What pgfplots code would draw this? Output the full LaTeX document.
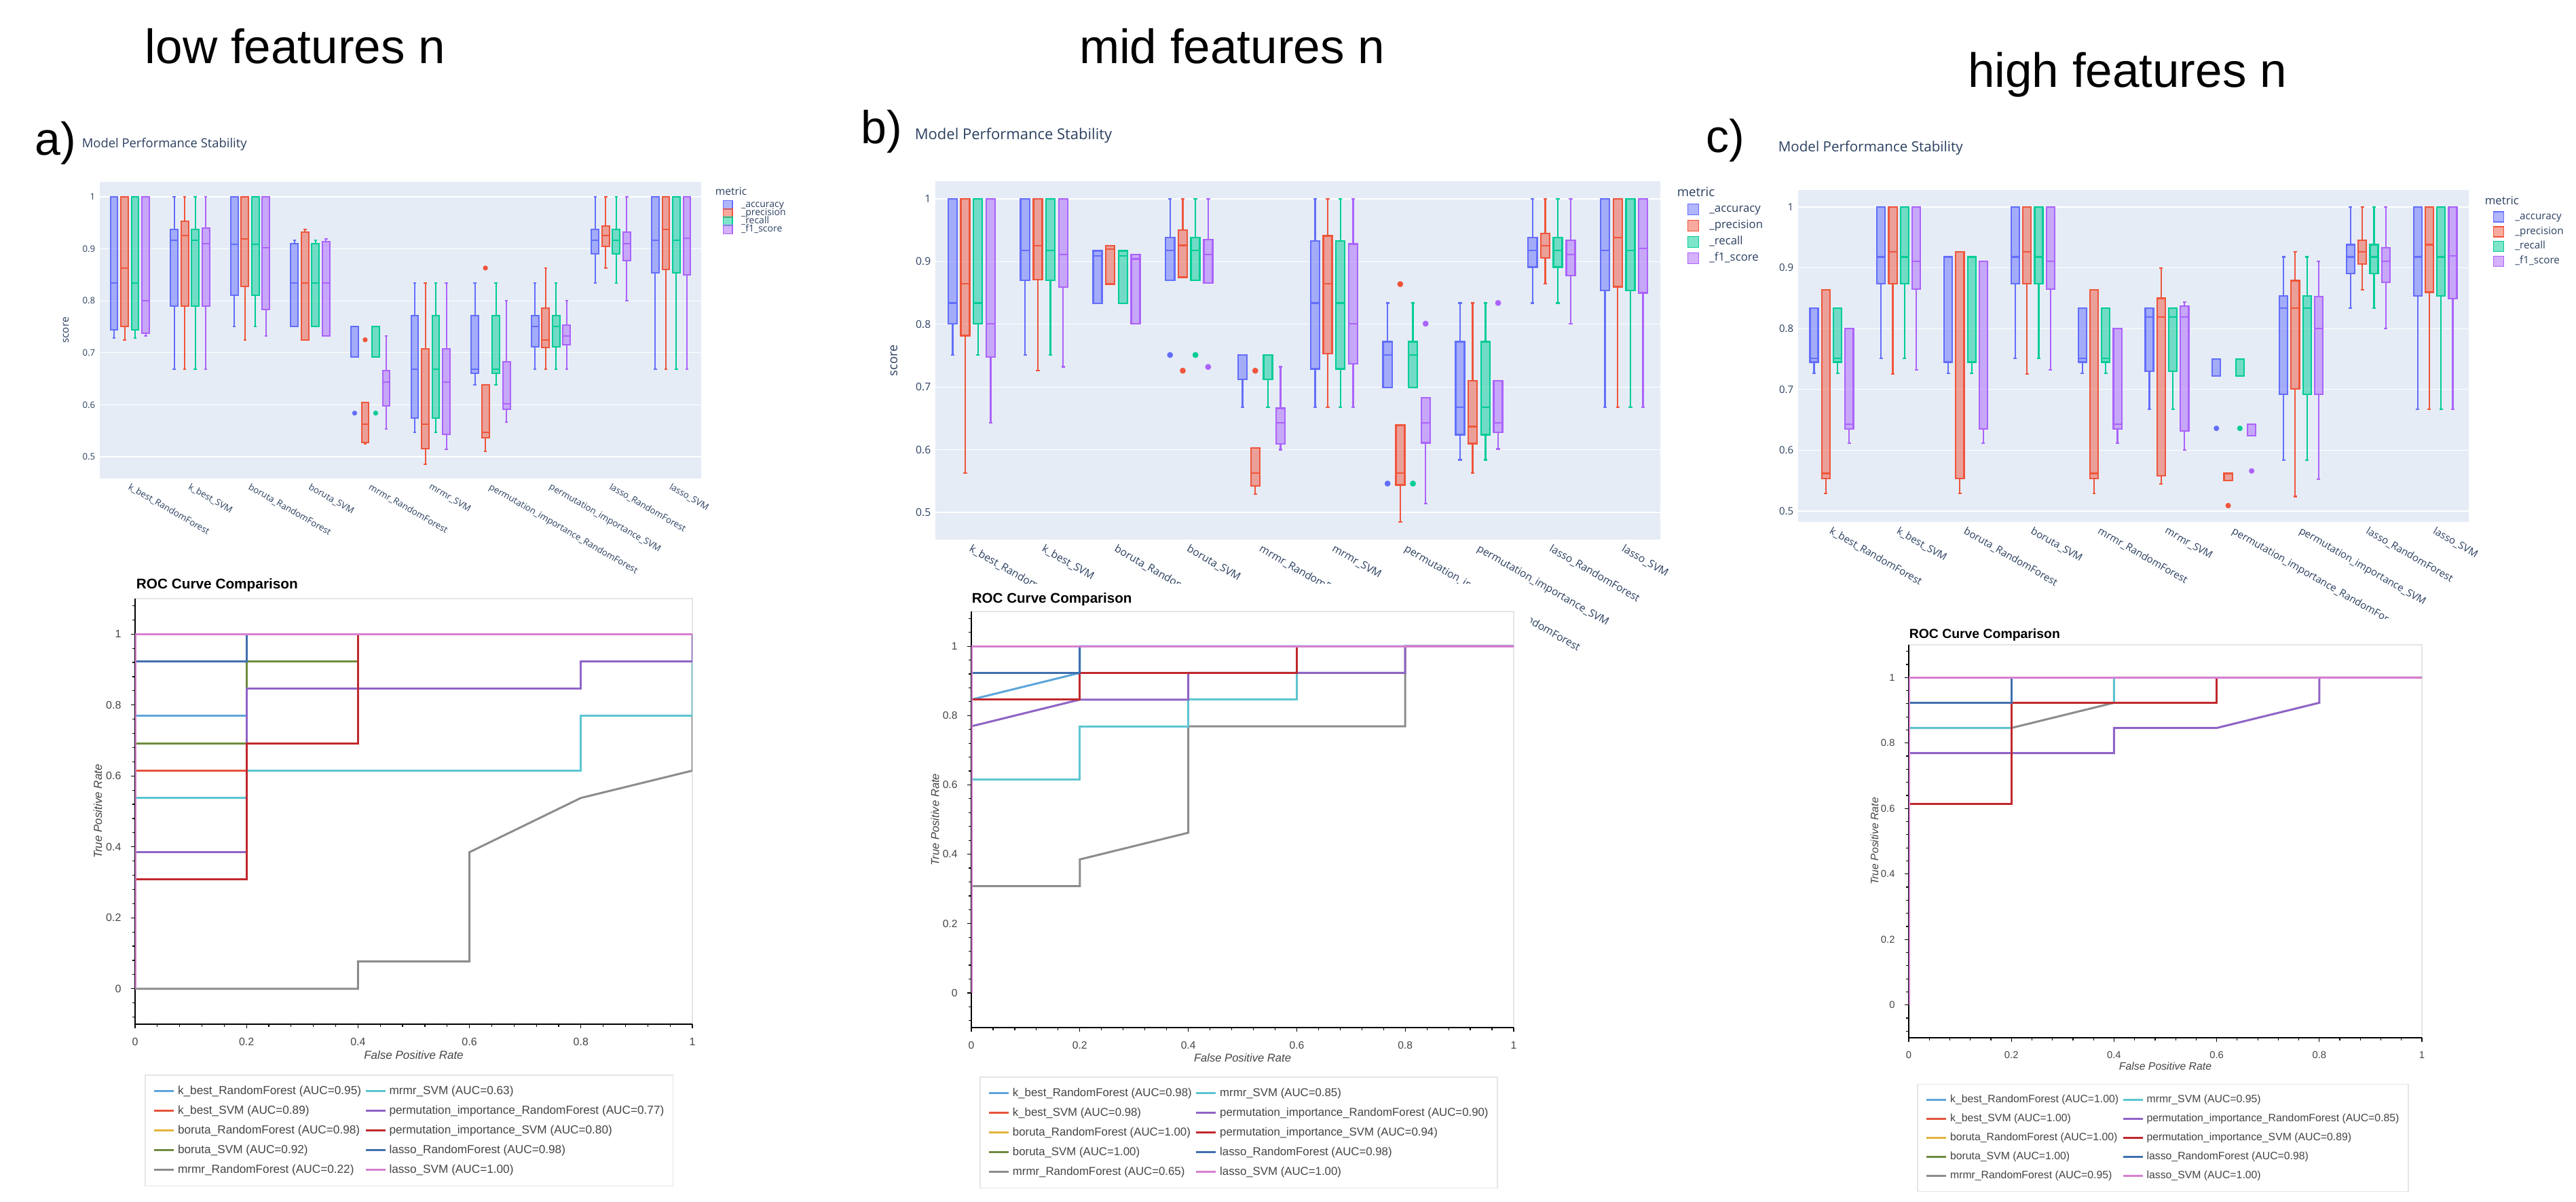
\documentclass[border=0pt]{standalone}
\usepackage{fontspec}
\setmainfont{Liberation Sans}
\newfontfamily\osans{Open Sans}
\usepackage{pgfplots}
\pgfplotsset{compat=1.18}
\usepgfplotslibrary{statistics}

\definecolor{cA}{HTML}{636EFA}
\definecolor{cP}{HTML}{EF553B}
\definecolor{cR}{HTML}{00CC96}
\definecolor{cF}{HTML}{AB63FA}
\definecolor{plotbg}{HTML}{E5ECF6}
\definecolor{plotfg}{HTML}{2A3F5F}
\definecolor{rocfg}{HTML}{444444}
\definecolor{rocframe}{HTML}{E5E5E5}
\definecolor{rc1}{HTML}{5DA5DA}
\definecolor{rc2}{HTML}{E4543C}
\definecolor{rc3}{HTML}{E2B33C}
\definecolor{rc4}{HTML}{6E8B3D}
\definecolor{rc5}{HTML}{8C8C8C}
\definecolor{rc6}{HTML}{5BC5D0}
\definecolor{rc7}{HTML}{8F63C6}
\definecolor{rc8}{HTML}{C0282E}
\definecolor{rc9}{HTML}{3F6FAE}
\definecolor{rc10}{HTML}{D680D0}

\def\px{0.25pt}
\newcommand{\fs}[1]{\fontsize{#1pt}{#1pt}\selectfont}

% one box: position, colour, lower whisker, q1, median, q3, upper whisker, outliers
\newcommand{\Bx}[8]{%
  \pgfmathsetmacro{\bxpos}{#1}%
  \edef\bxcmd{\noexpand\addplot[forget plot, draw=#2, fill=#2, fill opacity=0.5,
    mark=*, mark options={draw=#2, fill=#2, fill opacity=1},
    boxplot/draw direction=y,
    boxplot prepared={draw position=\bxpos, lower whisker=#3, lower quartile=#4,
      median=#5, upper quartile=#6, upper whisker=#7,
      box extend=0.1225, whisker extend=0.05}]
    coordinates {#8};}%
  \bxcmd}
\newcommand{\Ba}[7]{\Bx{#1-0.2625}{cA}{#2}{#3}{#4}{#5}{#6}{#7}}
\newcommand{\Bp}[7]{\Bx{#1-0.0875}{cP}{#2}{#3}{#4}{#5}{#6}{#7}}
\newcommand{\Br}[7]{\Bx{#1+0.0875}{cR}{#2}{#3}{#4}{#5}{#6}{#7}}
\newcommand{\Bf}[7]{\Bx{#1+0.2625}{cF}{#2}{#3}{#4}{#5}{#6}{#7}}

\newcommand{\rle}[2]{\addlegendimage{#1, line width=0.75pt}\addlegendentry{#2}}
\newcommand{\mle}[1]{\addlegendimage{draw=#1, fill=#1, fill opacity=0.5, line width=0.4pt}}

\pgfplotsset{
  bxbase/.style={
    scale only axis, xmin=-0.5, xmax=9.5, enlargelimits=false,
    axis background/.style={fill=plotbg},
    axis line style={draw=none}, major tick length=0pt, tick style={draw=none},
    ymajorgrids,
    ytick={0.5,0.6,0.7,0.8,0.9,1},
    xtick={0,...,9},
    xticklabels={k\_best\_RandomForest, k\_best\_SVM, boruta\_RandomForest, boruta\_SVM,
      mrmr\_RandomForest, mrmr\_SVM, permutation\_importance\_RandomForest,
      permutation\_importance\_SVM, lasso\_RandomForest, lasso\_SVM},
    xticklabel style={rotate=-30, anchor=north west, inner sep=1pt},
    yticklabel style={inner xsep=1.5pt},
    tick label style={text=plotfg},
    /pgf/number format/assume math mode=true,
    ylabel={score},
    legend cell align=left,
    legend style={anchor=north west, draw=none, fill=none, inner sep=0pt},
  },
  rocbase/.style={
    scale only axis, xmin=0, xmax=1, ymin=-0.1, ymax=1.1,
    axis x line*=bottom, axis y line*=left,
    axis background/.style={draw=rocframe, line width=0.3pt},
    x axis line style={line width=0.6pt},
    y axis line style={line width=0.35pt},
    tick align=outside,
    xtick={0,0.2,0.4,0.6,0.8,1}, ytick={0,0.2,0.4,0.6,0.8,1},
    minor xtick={0,0.04,...,1.0}, minor ytick={-0.08,-0.04,...,1.09},
    major tick length=1.6pt, minor tick length=1pt,
    tick style={black, line width=0.3pt},
    tick label style={text=rocfg},
    /pgf/number format/assume math mode=true,
    xlabel={False Positive Rate}, ylabel={True Positive Rate},
    label style={text=rocfg},
    ylabel style={at={(axis description cs:-0.067,0.5)}, anchor=center},
    xlabel style={at={(axis description cs:0.5,-0.073)}, anchor=center},
    legend columns=2, legend cell align=left,
    legend image code/.code={\draw[##1] (0pt,0pt) -- (7.2pt,0pt);},
    legend style={anchor=north west, draw=rocframe, fill=white, line width=0.4pt,
      inner xsep=3pt, inner ysep=3.6pt, row sep=2.5pt,
      /tikz/every odd column/.append style={column sep=0.8pt},
      /tikz/every even column/.append style={column sep=1pt},
      nodes={inner sep=0.3pt, text height=3.2pt, text depth=0.95pt, text=rocfg}},
    every axis plot/.append style={line width=0.75pt, mark=none},
  },
}

\begin{document}
\begin{tikzpicture}
\useasboundingbox (0,0) rectangle (948.75pt,-442.5pt);

% ================= a) low features: box plots
\begin{axis}[bxbase, at={(36.75pt,-176.25pt)}, anchor=south west,
  width=221.5pt, height=109.25pt, ymin=0.4582, ymax=1.0287,
  tick label style={font=\osans\fs{3.3}},
  ylabel style={font=\osans\fs{3.8}, text=plotfg, at={(axis description cs:-0.0564,0.5)}, anchor=center},
  grid style={white, line width=0.27pt},
  every axis plot/.append style={line width=0.5pt, mark size=0.65pt},
  legend style={at={(axis description cs:1.035,0.9405)}, font=\osans\fs{3.5}, row sep=-0.6pt,
    /tikz/every odd column/.append style={column sep=3pt},
    nodes={inner sep=0pt, text height=2.6pt, text depth=0.8pt, text=plotfg}},
  legend image code/.code={\draw[#1] (0pt,-1.6pt) rectangle (3.4pt,1.6pt);},
]
\Ba{0}{0.728}{0.744}{0.834}{1}{1}{}
\Bp{0}{0.725}{0.751}{0.863}{1}{1}{}
\Br{0}{0.728}{0.744}{0.834}{1}{1}{}
\Bf{0}{0.732}{0.737}{0.800}{1}{1}{}
\Ba{1}{0.668}{0.790}{0.916}{0.937}{1}{}
\Bp{1}{0.668}{0.790}{0.925}{0.953}{1}{}
\Br{1}{0.668}{0.790}{0.916}{0.937}{1}{}
\Bf{1}{0.668}{0.790}{0.910}{0.940}{1}{}
\Ba{2}{0.750}{0.811}{0.909}{1}{1}{}
\Bp{2}{0.725}{0.828}{0.919}{1}{1}{}
\Br{2}{0.750}{0.811}{0.909}{1}{1}{}
\Bf{2}{0.732}{0.783}{0.902}{1}{1}{}
\Ba{3}{0.750}{0.750}{0.834}{0.910}{0.917}{}
\Bp{3}{0.725}{0.725}{0.834}{0.932}{0.937}{}
\Br{3}{0.750}{0.750}{0.834}{0.910}{0.917}{}
\Bf{3}{0.732}{0.732}{0.834}{0.914}{0.919}{}
\Ba{4}{0.692}{0.692}{0.750}{0.750}{0.750}{(0,0.584)}
\Bp{4}{0.525}{0.527}{0.563}{0.604}{0.604}{(0,0.725)}
\Br{4}{0.692}{0.692}{0.750}{0.750}{0.750}{(0,0.584)}
\Bf{4}{0.554}{0.598}{0.644}{0.666}{0.732}{}
\Ba{5}{0.547}{0.574}{0.668}{0.771}{0.834}{}
\Bp{5}{0.486}{0.516}{0.563}{0.708}{0.834}{}
\Br{5}{0.547}{0.574}{0.668}{0.771}{0.834}{}
\Bf{5}{0.515}{0.543}{0.644}{0.708}{0.834}{}
\Ba{6}{0.638}{0.660}{0.668}{0.771}{0.834}{}
\Bp{6}{0.510}{0.537}{0.547}{0.639}{0.639}{(0,0.863)}
\Br{6}{0.638}{0.660}{0.668}{0.771}{0.834}{}
\Bf{6}{0.567}{0.591}{0.602}{0.683}{0.800}{}
\Ba{7}{0.668}{0.711}{0.751}{0.771}{0.834}{}
\Bp{7}{0.668}{0.710}{0.725}{0.786}{0.863}{}
\Br{7}{0.668}{0.711}{0.751}{0.771}{0.834}{}
\Bf{7}{0.668}{0.716}{0.732}{0.753}{0.800}{}
\Ba{8}{0.834}{0.890}{0.916}{0.937}{1}{}
\Bp{8}{0.863}{0.905}{0.925}{0.944}{1}{}
\Br{8}{0.834}{0.890}{0.916}{0.937}{1}{}
\Bf{8}{0.800}{0.877}{0.910}{0.932}{1}{}
\Ba{9}{0.668}{0.854}{0.916}{1}{1}{}
\Bp{9}{0.668}{0.860}{0.937}{1}{1}{}
\Br{9}{0.668}{0.854}{0.916}{1}{1}{}
\Bf{9}{0.668}{0.850}{0.920}{1}{1}{}
\mle{cA}\addlegendentry{\_accuracy}
\mle{cP}\addlegendentry{\_precision}
\mle{cR}\addlegendentry{\_recall}
\mle{cF}\addlegendentry{\_f1\_score}
\end{axis}

% ================= b) mid features: box plots
\begin{axis}[bxbase, at={(344.5pt,-198.75pt)}, anchor=south west,
  width=267pt, height=132pt, ymin=0.4567, ymax=1.0281,
  tick label style={font=\osans\fs{3.9}},
  ylabel style={font=\osans\fs{4.6}, text=plotfg, at={(axis description cs:-0.0571,0.5)}, anchor=center},
  grid style={white, line width=0.32pt},
  every axis plot/.append style={line width=0.6pt, mark size=0.78pt},
  legend style={at={(axis description cs:1.0365,0.9394)}, font=\osans\fs{4.2}, row sep=1.6pt,
    /tikz/every odd column/.append style={column sep=3.75pt},
    nodes={inner sep=0pt, text height=3.1pt, text depth=1pt, text=plotfg}},
  legend image code/.code={\draw[#1] (0pt,-2pt) rectangle (4pt,2pt);},
]
\Ba{0}{0.751}{0.801}{0.834}{1}{1}{}
\Bp{0}{0.563}{0.782}{0.865}{1}{1}{}
\Br{0}{0.751}{0.801}{0.834}{1}{1}{}
\Bf{0}{0.643}{0.748}{0.801}{1}{1}{}
\Ba{1}{0.751}{0.870}{0.918}{1}{1}{}
\Bp{1}{0.726}{0.871}{0.925}{1}{1}{}
\Br{1}{0.751}{0.870}{0.918}{1}{1}{}
\Bf{1}{0.732}{0.859}{0.911}{1}{1}{}
\Ba{2}{0.833}{0.833}{0.909}{0.917}{0.917}{}
\Bp{2}{0.864}{0.864}{0.920}{0.925}{0.925}{}
\Br{2}{0.833}{0.833}{0.909}{0.917}{0.917}{}
\Bf{2}{0.801}{0.801}{0.904}{0.911}{0.911}{}
\Ba{3}{0.870}{0.870}{0.918}{0.938}{1}{(0,0.751)}
\Bp{3}{0.875}{0.875}{0.926}{0.950}{1}{(0,0.726)}
\Br{3}{0.870}{0.870}{0.918}{0.938}{1}{(0,0.751)}
\Bf{3}{0.866}{0.866}{0.911}{0.935}{1}{(0,0.732)}
\Ba{4}{0.668}{0.712}{0.751}{0.751}{0.751}{}
\Bp{4}{0.529}{0.542}{0.563}{0.603}{0.603}{(0,0.726)}
\Br{4}{0.668}{0.712}{0.751}{0.751}{0.751}{}
\Bf{4}{0.600}{0.609}{0.643}{0.666}{0.732}{}
\Ba{5}{0.668}{0.729}{0.834}{0.933}{1}{}
\Bp{5}{0.668}{0.753}{0.865}{0.941}{1}{}
\Br{5}{0.668}{0.729}{0.834}{0.933}{1}{}
\Bf{5}{0.668}{0.737}{0.801}{0.928}{1}{}
\Ba{6}{0.699}{0.699}{0.751}{0.772}{0.834}{(0,0.546)}
\Bp{6}{0.485}{0.544}{0.563}{0.639}{0.639}{(0,0.864)}
\Br{6}{0.699}{0.699}{0.751}{0.772}{0.834}{(0,0.546)}
\Bf{6}{0.514}{0.611}{0.643}{0.683}{0.683}{(0,0.801)}
\Ba{7}{0.584}{0.624}{0.668}{0.772}{0.834}{}
\Bp{7}{0.563}{0.610}{0.637}{0.710}{0.834}{}
\Br{7}{0.584}{0.624}{0.668}{0.772}{0.834}{}
\Bf{7}{0.601}{0.628}{0.643}{0.710}{0.710}{(0,0.834)}
\Ba{8}{0.834}{0.891}{0.918}{0.938}{1}{}
\Bp{8}{0.865}{0.906}{0.925}{0.945}{1}{}
\Br{8}{0.834}{0.891}{0.918}{0.938}{1}{}
\Bf{8}{0.801}{0.878}{0.911}{0.934}{1}{}
\Ba{9}{0.668}{0.854}{0.918}{1}{1}{}
\Bp{9}{0.668}{0.860}{0.938}{1}{1}{}
\Br{9}{0.668}{0.854}{0.918}{1}{1}{}
\Bf{9}{0.668}{0.850}{0.921}{1}{1}{}
\mle{cA}\addlegendentry{\_accuracy}
\mle{cP}\addlegendentry{\_precision}
\mle{cR}\addlegendentry{\_recall}
\mle{cF}\addlegendentry{\_f1\_score}
\end{axis}

% ================= c) high features: box plots
\begin{axis}[bxbase, at={(662.25pt,-192.25pt)}, anchor=south west,
  width=247pt, height=122.25pt, ymin=0.4821, ymax=1.0279,
  tick label style={font=\osans\fs{3.75}},
  ylabel={},
  grid style={white, line width=0.3pt},
  every axis plot/.append style={line width=0.55pt, mark size=0.72pt},
  legend style={at={(axis description cs:1.0354,0.9376)}, font=\osans\fs{3.8}, row sep=1.3pt,
    /tikz/every odd column/.append style={column sep=4pt},
    nodes={inner sep=0pt, text height=2.8pt, text depth=0.9pt, text=plotfg}},
  legend image code/.code={\draw[#1] (0pt,-1.87pt) rectangle (3.75pt,1.87pt);},
]
\Ba{0}{0.727}{0.745}{0.751}{0.834}{0.834}{}
\Bp{0}{0.529}{0.554}{0.562}{0.864}{0.864}{}
\Br{0}{0.727}{0.745}{0.751}{0.834}{0.834}{}
\Bf{0}{0.612}{0.635}{0.643}{0.800}{0.800}{}
\Ba{1}{0.751}{0.874}{0.918}{1}{1}{}
\Bp{1}{0.725}{0.874}{0.926}{1}{1}{}
\Br{1}{0.751}{0.874}{0.918}{1}{1}{}
\Bf{1}{0.732}{0.865}{0.911}{1}{1}{}
\Ba{2}{0.727}{0.745}{0.918}{0.918}{0.918}{}
\Bp{2}{0.529}{0.554}{0.926}{0.926}{0.926}{}
\Br{2}{0.727}{0.745}{0.918}{0.918}{0.918}{}
\Bf{2}{0.612}{0.635}{0.911}{0.911}{0.911}{}
\Ba{3}{0.751}{0.874}{0.918}{1}{1}{}
\Bp{3}{0.725}{0.874}{0.926}{1}{1}{}
\Br{3}{0.751}{0.874}{0.918}{1}{1}{}
\Bf{3}{0.732}{0.865}{0.911}{1}{1}{}
\Ba{4}{0.727}{0.745}{0.751}{0.834}{0.834}{}
\Bp{4}{0.529}{0.554}{0.562}{0.864}{0.864}{}
\Br{4}{0.727}{0.745}{0.751}{0.834}{0.834}{}
\Bf{4}{0.612}{0.635}{0.643}{0.800}{0.800}{}
\Ba{5}{0.667}{0.730}{0.819}{0.834}{0.834}{}
\Bp{5}{0.545}{0.558}{0.819}{0.850}{0.900}{}
\Br{5}{0.667}{0.730}{0.819}{0.834}{0.834}{}
\Bf{5}{0.600}{0.632}{0.819}{0.837}{0.844}{}
\Ba{6}{0.722}{0.722}{0.750}{0.750}{0.750}{(0,0.636)}
\Bp{6}{0.550}{0.550}{0.562}{0.562}{0.562}{(0,0.509)}
\Br{6}{0.722}{0.722}{0.750}{0.750}{0.750}{(0,0.636)}
\Bf{6}{0.624}{0.624}{0.643}{0.643}{0.643}{(0,0.566)}
\Ba{7}{0.584}{0.692}{0.834}{0.854}{0.918}{}
\Bp{7}{0.524}{0.701}{0.834}{0.879}{0.926}{}
\Br{7}{0.584}{0.692}{0.834}{0.854}{0.918}{}
\Bf{7}{0.552}{0.692}{0.800}{0.853}{0.911}{}
\Ba{8}{0.834}{0.891}{0.918}{0.938}{1}{}
\Bp{8}{0.864}{0.906}{0.926}{0.945}{1}{}
\Br{8}{0.834}{0.891}{0.918}{0.938}{1}{}
\Bf{8}{0.800}{0.876}{0.911}{0.933}{1}{}
\Ba{9}{0.667}{0.854}{0.918}{1}{1}{}
\Bp{9}{0.667}{0.860}{0.938}{1}{1}{}
\Br{9}{0.667}{0.854}{0.918}{1}{1}{}
\Bf{9}{0.667}{0.849}{0.920}{1}{1}{}
\mle{cA}\addlegendentry{\_accuracy}
\mle{cP}\addlegendentry{\_precision}
\mle{cR}\addlegendentry{\_recall}
\mle{cF}\addlegendentry{\_f1\_score}
\end{axis}

% the ROC pictures lie over the lower part of the tick labels
\fill[white] ({1345*\px},{-860*\px}) rectangle ({2255*\px},{-1770*\px});
\fill[white] ({2730*\px},{-912*\px}) rectangle ({3610*\px},{-1770*\px});

% ================= a) ROC
\begin{axis}[rocbase, at={(49.75pt,-377.25pt)}, anchor=south west,
  width=205.25pt, height=156.75pt,
  tick label style={font=\fs{4.0}},
  label style={font=\itshape\fs{4.25}},
  legend style={at={(axis description cs:0.0171,-0.118)}, font=\fs{4.3}},
]
\addplot[forget plot, rc1] coordinates {(0,0)(0,0.769)(0.2,0.769)(0.2,1)(1,1)};
\addplot[forget plot, rc2] coordinates {(0,0)(0,0.615)(0.2,0.615)(0.2,0.846)(0.4,0.846)(0.4,1)(1,1)};
\addplot[forget plot, rc3] coordinates {(0,0)(0,0.923)(0.2,0.923)(0.2,1)(1,1)};
\addplot[forget plot, rc4] coordinates {(0,0)(0,0.692)(0.2,0.692)(0.2,0.923)(0.4,0.923)(0.4,1)(1,1)};
\addplot[forget plot, rc5] coordinates {(0,0)(0.4,0)(0.4,0.077)(0.6,0.077)(0.6,0.385)(0.8,0.538)(1,0.615)(1,1)};
\addplot[forget plot, rc6] coordinates {(0,0)(0,0.538)(0.2,0.538)(0.2,0.615)(0.8,0.615)(0.8,0.769)(1,0.769)(1,1)};
\addplot[forget plot, rc7] coordinates {(0,0)(0,0.385)(0.2,0.385)(0.2,0.846)(0.8,0.846)(0.8,0.923)(1,0.923)(1,1)};
\addplot[forget plot, rc8] coordinates {(0,0)(0,0.308)(0.2,0.308)(0.2,0.692)(0.4,0.692)(0.4,1)(1,1)};
\addplot[forget plot, rc9] coordinates {(0,0)(0,0.923)(0.2,0.923)(0.2,1)(1,1)};
\addplot[forget plot, rc10] coordinates {(0,0)(0,1)(1,1)};
\rle{rc1}{k\_best\_RandomForest (AUC=0.95)}
\rle{rc6}{mrmr\_SVM (AUC=0.63)}
\rle{rc2}{k\_best\_SVM (AUC=0.89)}
\rle{rc7}{permutation\_importance\_RandomForest (AUC=0.77)}
\rle{rc3}{boruta\_RandomForest (AUC=0.98)}
\rle{rc8}{permutation\_importance\_SVM (AUC=0.80)}
\rle{rc4}{boruta\_SVM (AUC=0.92)}
\rle{rc9}{lasso\_RandomForest (AUC=0.98)}
\rle{rc5}{mrmr\_RandomForest (AUC=0.22)}
\rle{rc10}{lasso\_SVM (AUC=1.00)}
\end{axis}

% ================= b) ROC
\begin{axis}[rocbase, at={(357.75pt,-378.5pt)}, anchor=south west,
  width=199.75pt, height=153.25pt,
  tick label style={font=\fs{3.9}},
  label style={font=\itshape\fs{4.15}},
  legend style={at={(axis description cs:0.015,-0.1175)}, font=\fs{4.2}},
]
\addplot[forget plot, rc1] coordinates {(0,0)(0,0.846)(0.2,0.923)(0.2,1)(1,1)};
\addplot[forget plot, rc2] coordinates {(0,0)(0,0.923)(0.2,0.923)(0.2,1)(1,1)};
\addplot[forget plot, rc3] coordinates {(0,0)(0,1)(1,1)};
\addplot[forget plot, rc4] coordinates {(0,0)(0,1)(1,1)};
\addplot[forget plot, rc5] coordinates {(0,0)(0,0.308)(0.2,0.308)(0.2,0.385)(0.4,0.462)(0.4,0.769)(0.8,0.769)(0.8,1)(1,1)};
\addplot[forget plot, rc6] coordinates {(0,0)(0,0.615)(0.2,0.615)(0.2,0.769)(0.4,0.769)(0.4,0.846)(0.6,0.846)(0.6,1)(1,1)};
\addplot[forget plot, rc7] coordinates {(0,0)(0,0.769)(0.2,0.846)(0.4,0.846)(0.4,0.923)(0.8,0.923)(0.8,1)(1,1)};
\addplot[forget plot, rc8] coordinates {(0,0)(0,0.846)(0.2,0.846)(0.2,0.923)(0.6,0.923)(0.6,1)(1,1)};
\addplot[forget plot, rc9] coordinates {(0,0)(0,0.923)(0.2,0.923)(0.2,1)(1,1)};
\addplot[forget plot, rc10] coordinates {(0,0)(0,1)(1,1)};
\rle{rc1}{k\_best\_RandomForest (AUC=0.98)}
\rle{rc6}{mrmr\_SVM (AUC=0.85)}
\rle{rc2}{k\_best\_SVM (AUC=0.98)}
\rle{rc7}{permutation\_importance\_RandomForest (AUC=0.90)}
\rle{rc3}{boruta\_RandomForest (AUC=1.00)}
\rle{rc8}{permutation\_importance\_SVM (AUC=0.94)}
\rle{rc4}{boruta\_SVM (AUC=1.00)}
\rle{rc9}{lasso\_RandomForest (AUC=0.98)}
\rle{rc5}{mrmr\_RandomForest (AUC=0.65)}
\rle{rc10}{lasso\_SVM (AUC=1.00)}
\end{axis}

% ================= c) ROC
\begin{axis}[rocbase, at={(703pt,-382.25pt)}, anchor=south west,
  width=189pt, height=144.75pt,
  tick label style={font=\fs{3.7}},
  label style={font=\itshape\fs{3.95}},
  legend style={at={(axis description cs:0.016,-0.117)}, font=\fs{3.95},
    nodes={text height=2.95pt, text depth=0.9pt}},
]
\addplot[forget plot, rc1] coordinates {(0,0)(0,1)(1,1)};
\addplot[forget plot, rc2] coordinates {(0,0)(0,1)(1,1)};
\addplot[forget plot, rc3] coordinates {(0,0)(0,1)(1,1)};
\addplot[forget plot, rc4] coordinates {(0,0)(0,1)(1,1)};
\addplot[forget plot, rc5] coordinates {(0,0)(0,0.846)(0.2,0.846)(0.4,0.923)(0.4,1)(1,1)};
\addplot[forget plot, rc6] coordinates {(0,0)(0,0.846)(0.2,0.846)(0.2,0.923)(0.4,0.923)(0.4,1)(1,1)};
\addplot[forget plot, rc7] coordinates {(0,0)(0,0.769)(0.4,0.769)(0.4,0.846)(0.6,0.846)(0.8,0.923)(0.8,1)(1,1)};
\addplot[forget plot, rc8] coordinates {(0,0)(0,0.615)(0.2,0.615)(0.2,0.923)(0.6,0.923)(0.6,1)(1,1)};
\addplot[forget plot, rc9] coordinates {(0,0)(0,0.923)(0.2,0.923)(0.2,1)(1,1)};
\addplot[forget plot, rc10] coordinates {(0,0)(0,1)(1,1)};
\rle{rc1}{k\_best\_RandomForest (AUC=1.00)}
\rle{rc6}{mrmr\_SVM (AUC=0.95)}
\rle{rc2}{k\_best\_SVM (AUC=1.00)}
\rle{rc7}{permutation\_importance\_RandomForest (AUC=0.85)}
\rle{rc3}{boruta\_RandomForest (AUC=1.00)}
\rle{rc8}{permutation\_importance\_SVM (AUC=0.89)}
\rle{rc4}{boruta\_SVM (AUC=1.00)}
\rle{rc9}{lasso\_RandomForest (AUC=0.98)}
\rle{rc5}{mrmr\_RandomForest (AUC=0.95)}
\rle{rc10}{lasso\_SVM (AUC=1.00)}
\end{axis}

% ================= texts around the panels
\node[anchor=base, font=\fs{17.75}] at ({435*\px},{-93*\px}) {low features n};
\node[anchor=base, font=\fs{17.75}] at ({1815*\px},{-93*\px}) {mid features n};
\node[anchor=base, font=\fs{17.75}] at ({3134*\px},{-128*\px}) {high features n};

\node[anchor=base west, inner sep=0pt, font=\fs{17}] at ({51*\px},{-228*\px}) {a)};
\node[anchor=base west, inner sep=0pt, font=\fs{17}] at ({1268*\px},{-211*\px}) {b)};
\node[anchor=base west, inner sep=0pt, font=\fs{17}] at ({2513*\px},{-224*\px}) {c)};

\node[anchor=base west, inner sep=0pt, text=plotfg, font=\osans\fs{4.6}] at ({120*\px},{-217*\px}) {Model Performance Stability};
\node[anchor=base west, inner sep=0pt, text=plotfg, font=\osans\fs{5.5}] at ({1347*\px},{-205*\px}) {Model Performance Stability};
\node[anchor=base west, inner sep=0pt, text=plotfg, font=\osans\fs{5.15}] at ({2619*\px},{-223*\px}) {Model Performance Stability};

\node[anchor=west, inner sep=0pt, text=plotfg, font=\osans\fs{3.9}] at ({1053*\px},{-282*\px}) {metric};
\node[anchor=west, inner sep=0pt, text=plotfg, font=\osans\fs{4.65}] at ({2470*\px},{-283*\px}) {metric};
\node[anchor=west, inner sep=0pt, text=plotfg, font=\osans\fs{4.2}] at ({3660*\px},{-295*\px}) {metric};

\node[anchor=west, inner sep=0pt, font=\bfseries\fs{5.2}] at ({200*\px},{-862*\px}) {ROC Curve Comparison};
\node[anchor=west, inner sep=0pt, font=\bfseries\fs{5.15}] at ({1431*\px},{-883*\px}) {ROC Curve Comparison};
\node[anchor=west, inner sep=0pt, font=\bfseries\fs{4.85}] at ({2812*\px},{-935*\px}) {ROC Curve Comparison};
\end{tikzpicture}
\end{document}
